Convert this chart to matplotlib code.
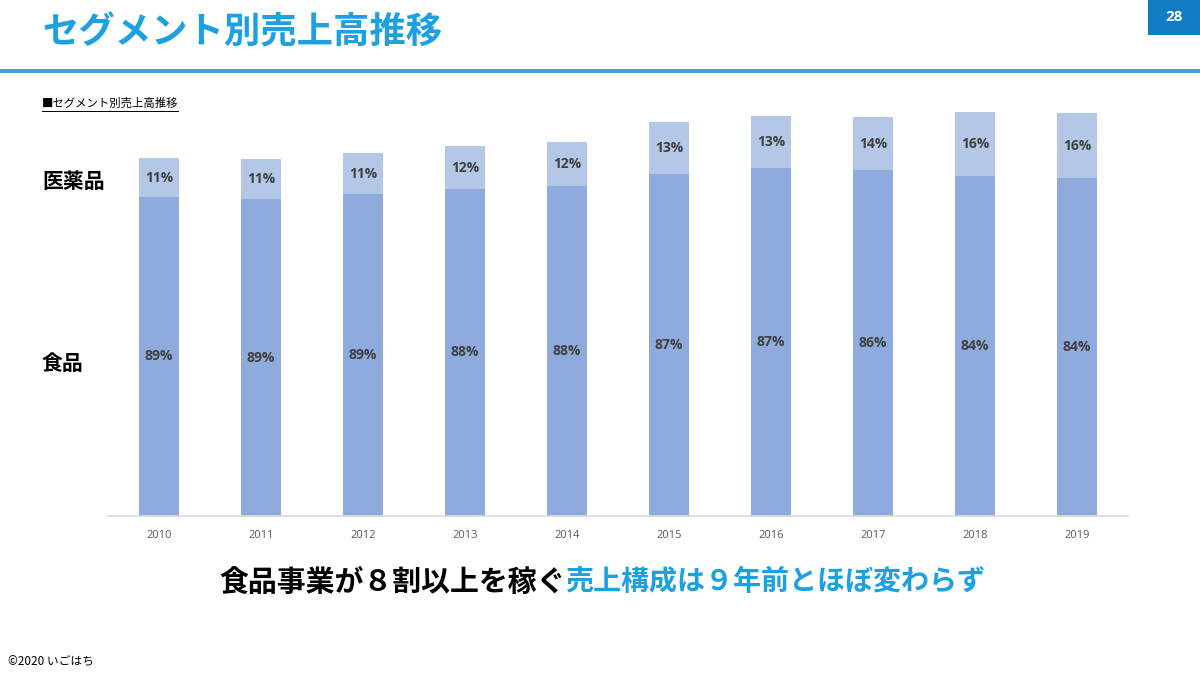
import matplotlib

matplotlib.use("Agg")
import matplotlib.pyplot as plt  # noqa: E402
from matplotlib.patches import Rectangle  # noqa: E402

plt.rcParams["font.family"] = ["Noto Sans CJK JP", "DejaVu Sans"]

# Datos (alturas relativas de las barras)
years = ["2010", "2011", "2012", "2013", "2014", "2015", "2016", "2017", "2018", "2019"]
food = [319, 317, 322, 327, 330, 342, 348, 346, 340, 338]
pharma = [39, 40, 41, 43, 44, 52, 52, 53, 64, 65]
food_pct = ["89%", "89%", "89%", "88%", "88%", "87%", "87%", "86%", "84%", "84%"]
pharma_pct = ["11%", "11%", "11%", "12%", "12%", "13%", "13%", "14%", "16%", "16%"]

_AZUL = "#1ba1e2"
_FOOD = "#8faadc"
_PHARMA = "#b4c7e7"

W, H = 1200, 675
fig = plt.figure(figsize=(12, 6.75), dpi=100)
fig.patch.set_facecolor("white")


def fx(px):
    return px / W


def fy(py):
    return 1 - py / H


# Cabecera
fig.text(fx(42), fy(33), "セグメント別売上高推移", fontsize=26.2, fontweight="bold",
         color=_AZUL, va="center", ha="left")
fig.add_artist(Rectangle((0, fy(72.5)), 1, 3 / H, transform=fig.transFigure,
                         color="#3ba3cc", lw=0))
fig.add_artist(Rectangle((fx(1148), fy(35)), fx(52), 35 / H, transform=fig.transFigure,
                         color="#0f7dc2", lw=0))
fig.text(fx(1174), fy(17), "28", fontsize=11, fontweight="bold", color="white",
         ha="center", va="center", family=["Open Sans", "DejaVu Sans"])

sub = fig.text(fx(42), fy(103), "■セグメント別売上高推移", fontsize=8.2, color="black",
               ha="left", va="center")
renderer = fig.canvas.get_renderer()
bb = sub.get_window_extent(renderer)
fig.add_artist(Rectangle((fx(42), fy(112)), bb.width / W, 1 / H, transform=fig.transFigure,
                         color="black", lw=0))

# Gráfico
ax = fig.add_axes([fx(108), fy(516), fx(1020), (516 - 100) / H])
x = range(len(years))
ax.bar(x, food, width=0.39, color=_FOOD, zorder=2)
ax.bar(x, pharma, width=0.39, bottom=food, color=_PHARMA, zorder=2)
for i in x:
    ax.text(i, food[i] / 2, food_pct[i], ha="center", va="center", fontsize=10,
            fontweight="bold", color="#404040", family=["Open Sans", "DejaVu Sans"])
    ax.text(i, food[i] + pharma[i] / 2, pharma_pct[i], ha="center", va="center",
            fontsize=10, fontweight="bold", color="#404040",
            family=["Open Sans", "DejaVu Sans"])
ax.set_xlim(-0.5, len(years) - 0.5)
ax.set_ylim(0, 416)
ax.set_xticks(list(x))
ax.set_xticklabels(years, fontsize=8, color="#595959", family=["Open Sans", "DejaVu Sans"])
ax.tick_params(axis="x", length=0, pad=10)
ax.set_yticks([])
for s in ("top", "right", "left"):
    ax.spines[s].set_visible(False)
ax.spines["bottom"].set_color("#d9d9d9")
ax.spines["bottom"].set_linewidth(1.2)
ax.set_facecolor("none")

fig.text(fx(42), fy(182), "医薬品", fontsize=15, fontweight="bold", color="black",
         ha="left", va="center")
fig.text(fx(42), fy(363), "食品", fontsize=15, fontweight="bold", color="black",
         ha="left", va="center")

# Mensaje inferior
fig.text(fx(566), fy(582), "食品事業が８割以上を稼ぐ", fontsize=20.8, fontweight="bold",
         color="black", ha="right", va="center")
fig.text(fx(565), fy(582), "売上構成は９年前とほぼ変わらず", fontsize=20.2, fontweight="bold",
         color=_AZUL, ha="left", va="center")

fig.text(fx(8), fy(662), "©2020 いごはち", fontsize=8.5, color="black", ha="left",
         va="center")

fig.savefig("out.png", dpi=100)
